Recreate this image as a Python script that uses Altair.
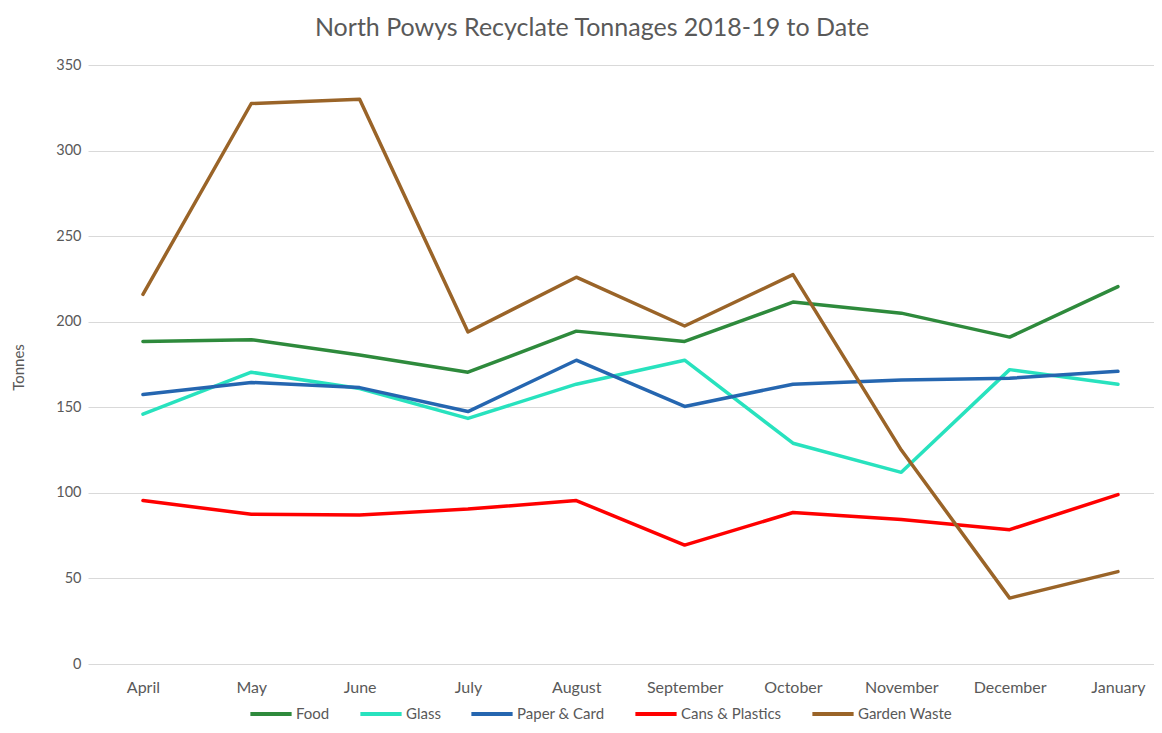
import altair as alt
import pandas as pd

months = ["April", "May", "June", "July", "August", "September",
          "October", "November", "December", "January"]
series_names = ["Food", "Glass", "Paper & Card", "Cans & Plastics", "Garden Waste"]
food = [188.5, 189.5, 180.5, 170.5, 194.5, 188.5, 211.5, 205.0, 191.0, 220.5]
glass = [146.0, 170.5, 161.0, 143.5, 163.5, 177.5, 129.0, 112.0, 172.0, 163.5]
paper = [157.5, 164.5, 161.5, 147.5, 177.5, 150.5, 163.5, 166.0, 167.0, 171.0]
cans = [95.5, 87.5, 87.0, 90.5, 95.5, 69.5, 88.5, 84.5, 78.5, 99.0]
garden = [216.0, 327.5, 330.0, 194.0, 226.0, 197.5, 227.5, 125.0, 38.5, 54.0]
y_ticks = [0, 50, 100, 150, 200, 250, 300, 350]
colors = ["#2E8A3C", "#28E2BE", "#2566B0", "#FF0000", "#9A6428"]

rows = []
for name, vals in zip(series_names, [food, glass, paper, cans, garden]):
    for m, v in zip(months, vals):
        rows.append({"Series": name, "Month": m, "Tonnes": v})
df = pd.DataFrame(rows)

FONT = "Lato"
GREY = "#595959"

chart = alt.Chart(df).mark_line(strokeWidth=3.5, strokeCap="round", strokeJoin="round").encode(
    x=alt.X("Month:N", sort=months,
            scale=alt.Scale(type="point", padding=0.42, align=0.604),
            axis=alt.Axis(title=None, labelAngle=0, ticks=False, domain=False,
                          labelPadding=15, labelFontSize=16, labelColor=GREY,
                          labelFont=FONT, grid=False)),
    y=alt.Y("Tonnes:Q", scale=alt.Scale(domain=[0, 350]),
            axis=alt.Axis(values=y_ticks, title="Tonnes", grid=True,
                          gridColor="#d9d9d9", gridWidth=1, domain=False,
                          ticks=False, labelPadding=7, labelFontSize=14.5,
                          labelColor=GREY, labelFont=FONT,
                          titleFont=FONT, titleFontSize=15, titleColor=GREY,
                          titleFontWeight="normal", titleX=-70, titleY=302,
                          titleAngle=270, titleAlign="center",
                          titleBaseline="middle")),
    color=alt.Color("Series:N", sort=series_names,
                    scale=alt.Scale(domain=series_names, range=colors),
                    legend=alt.Legend(title=None, orient="none", legendX=160,
                                      legendY=626, direction="horizontal",
                                      symbolType="stroke", symbolStrokeWidth=4,
                                      symbolSize=1700, labelFont=FONT,
                                      labelFontSize=15, labelColor=GREY,
                                      labelOffset=2, columnPadding=22)),
).properties(
    width=1066,
    height=599,
    title=alt.TitleParams("North Powys Recyclate Tonnages 2018-19 to Date",
                          font=FONT, fontSize=25, fontWeight="normal",
                          color=GREY, anchor="middle", dx=-29, offset=16),
    padding={"left": 80, "top": 57, "right": 0, "bottom": 61},
    autosize=alt.AutoSizeParams(type="none"),
).configure_view(stroke=None)

chart.save("out.html", embed_options={"renderer": "svg", "actions": False})
